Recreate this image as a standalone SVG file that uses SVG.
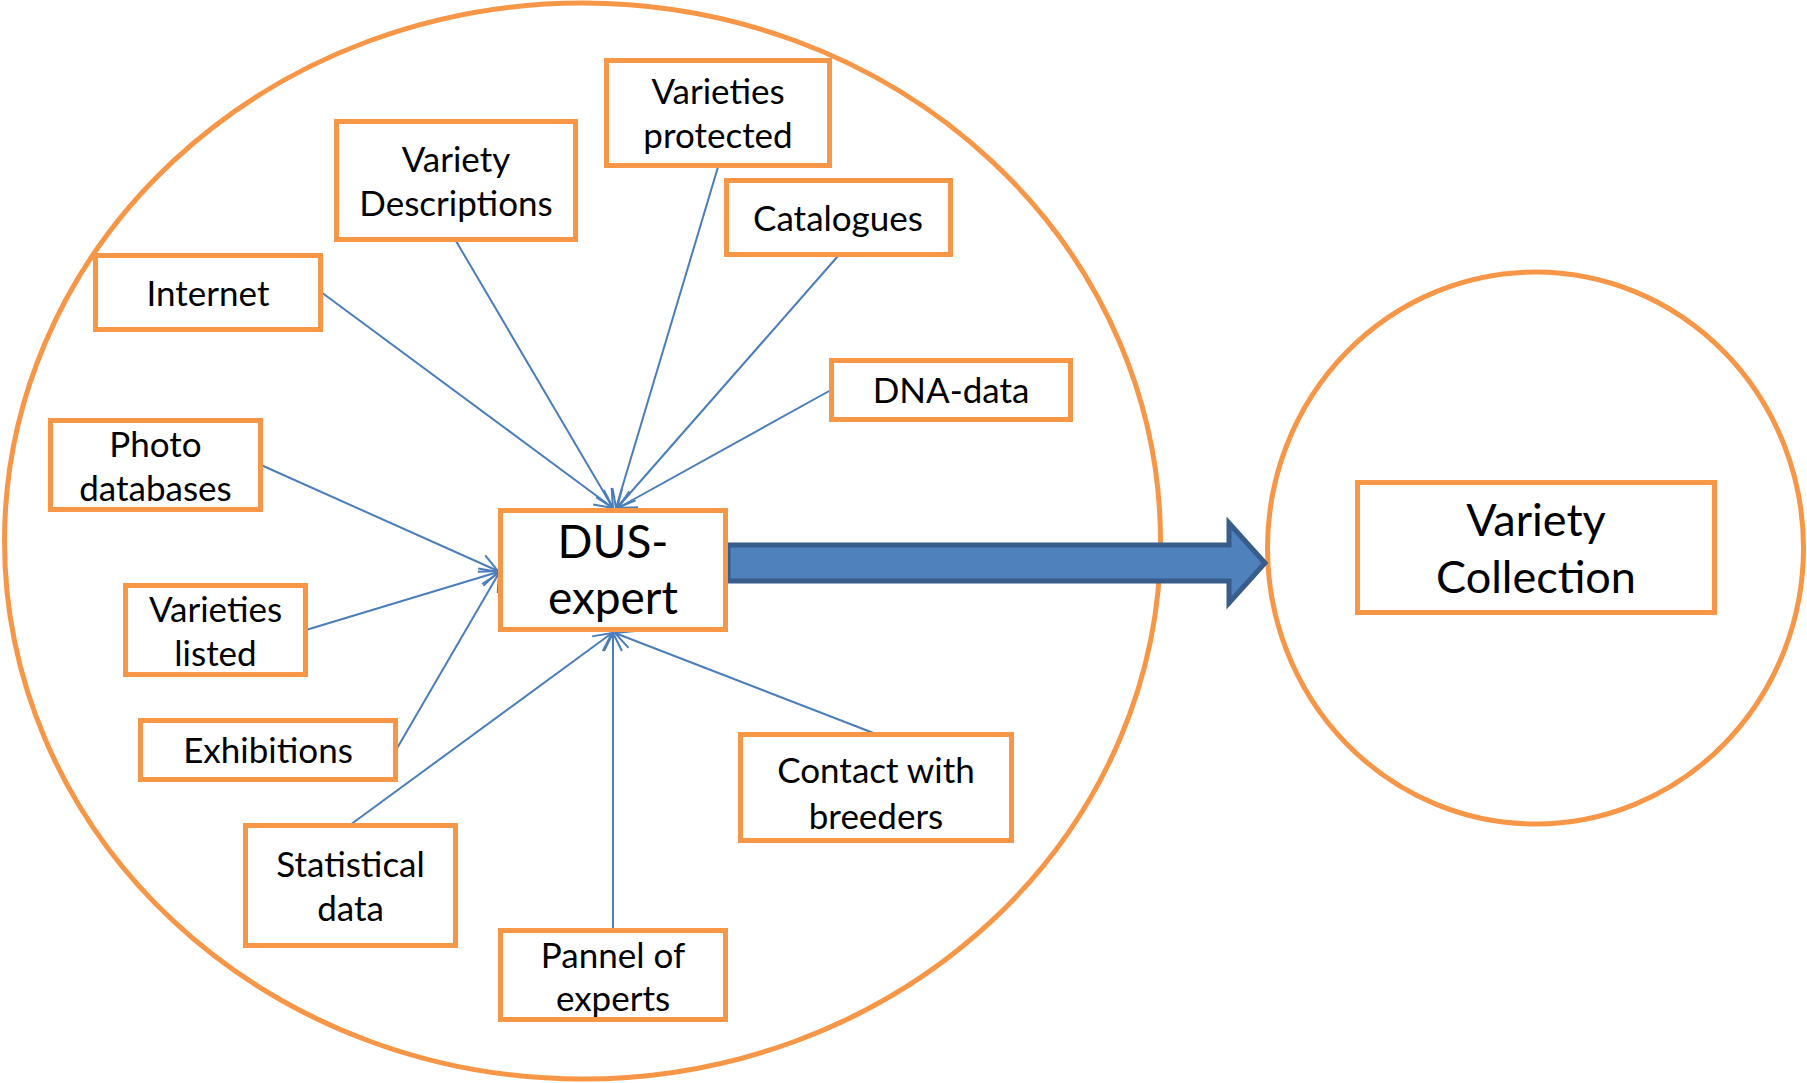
<svg xmlns="http://www.w3.org/2000/svg" width="1807" height="1083" viewBox="0 0 1807 1083">
<defs>
<style>
.box{fill:#FFFFFF;stroke:#F79646;stroke-width:5}
.ring{fill:none;stroke:#F79646;stroke-width:5}
.t{font-family:Lato,"Open Sans","Liberation Sans",sans-serif;font-size:35px;fill:#000000;text-anchor:middle}
.big{font-size:46px}
.vc{font-size:45px}
.c{stroke:#4A7EBB;stroke-width:2;fill:none;marker-end:url(#arr)}
</style>
<marker id="arr" markerUnits="userSpaceOnUse" markerWidth="24" markerHeight="24" refX="20" refY="11" orient="auto" overflow="visible">
<path d="M2,2 L20,11 L2,20" fill="none" stroke="#4A7EBB" stroke-width="2"/>
</marker>
</defs>
<rect width="1807" height="1083" fill="#FFFFFF"/>
<g id="outer-circle"><ellipse class="ring" cx="582.5" cy="541" rx="578" ry="538"/></g>
<g id="collection-circle"><ellipse class="ring" cx="1535.5" cy="548" rx="268" ry="276"/></g>
<g id="big-arrow"><polygon points="728,545 1229,545 1229,523 1265,563 1229,603 1229,581 728,581" fill="#4F81BD" stroke="#385D8A" stroke-width="5" stroke-linejoin="miter"/></g>
<g id="connectors">
<line class="c" x1="321" y1="292" x2="613" y2="508"/>
<line class="c" x1="456" y1="241" x2="613" y2="508"/>
<line class="c" x1="718" y1="167" x2="616" y2="508"/>
<line class="c" x1="838" y1="256" x2="617" y2="508"/>
<line class="c" x1="831" y1="390" x2="618" y2="508"/>
<line class="c" x1="261" y1="465" x2="498" y2="571"/>
<line class="c" x1="306" y1="630" x2="498" y2="572"/>
<line class="c" x1="396" y1="750" x2="499" y2="573"/>
<line class="c" x1="350" y1="825" x2="612" y2="633"/>
<line class="c" x1="613" y1="929" x2="613" y2="633"/>
<line class="c" x1="876" y1="734" x2="615" y2="633"/>
</g>
<g id="internet"><rect class="box" x="95.5" y="255.5" width="225" height="74"/><text class="t" x="208" y="306">Internet</text></g>
<g id="variety-descriptions"><rect class="box" x="336.5" y="121.5" width="239" height="118"/><text class="t" x="456" y="172">Variety</text><text class="t" x="456" y="216">Descriptions</text></g>
<g id="varieties-protected"><rect class="box" x="606.5" y="60.5" width="223" height="105"/><text class="t" x="718" y="104">Varieties</text><text class="t" x="718" y="148">protected</text></g>
<g id="catalogues"><rect class="box" x="726.5" y="180.5" width="224" height="74"/><text class="t" x="838" y="231">Catalogues</text></g>
<g id="dna-data"><rect class="box" x="831.5" y="360.5" width="239" height="59"/><text class="t" x="951" y="403">DNA-data</text></g>
<g id="photo-databases"><rect class="box" x="50.5" y="420.5" width="210" height="89"/><text class="t" x="155.5" y="457">Photo</text><text class="t" x="155.5" y="501">databases</text></g>
<g id="dus-expert"><rect class="box" x="500.5" y="510.5" width="225" height="119"/><text class="t big" x="613" y="558">DUS-</text><text class="t big" x="613" y="614">expert</text></g>
<g id="varieties-listed"><rect class="box" x="125.5" y="585.5" width="180" height="89"/><text class="t" x="215.5" y="622">Varieties</text><text class="t" x="215.5" y="666">listed</text></g>
<g id="exhibitions"><rect class="box" x="140.5" y="720.5" width="255" height="59"/><text class="t" x="268" y="763">Exhibitions</text></g>
<g id="statistical-data"><rect class="box" x="245.5" y="825.5" width="210" height="120"/><text class="t" x="350.5" y="877">Statistical</text><text class="t" x="350.5" y="921">data</text></g>
<g id="pannel-of-experts"><rect class="box" x="500.5" y="930.5" width="225" height="89"/><text class="t" x="613" y="968">Pannel of</text><text class="t" x="613" y="1011">experts</text></g>
<g id="contact-with-breeders"><rect class="box" x="740.5" y="734.5" width="271" height="106"/><text class="t" x="876" y="783">Contact with</text><text class="t" x="876" y="829">breeders</text></g>
<g id="variety-collection"><rect class="box" x="1357.5" y="482.5" width="357" height="130"/><text class="t vc" x="1536" y="536">Variety</text><text class="t vc" x="1536" y="593">Collection</text></g>
</svg>
